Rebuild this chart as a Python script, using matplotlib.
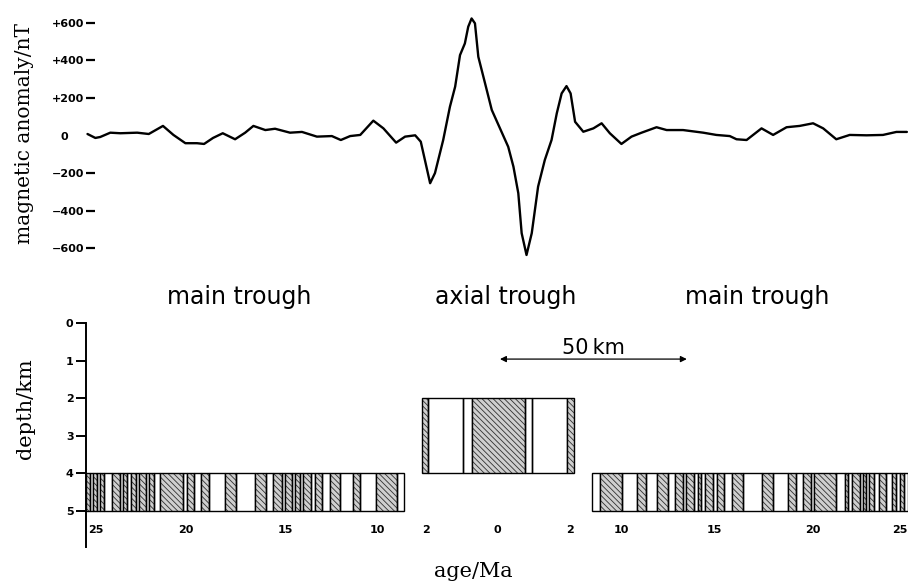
import matplotlib.pyplot as plt

# anomaly profile: distance from spreading axis (km) and field anomaly (nT)
profile_km = [-109.6, -107.5, -106.2, -103.5, -100.8, -96.3, -93.2, -89.4, -86.6, -83.4,
              -80.3, -78.4, -76.0, -73.4, -70.1, -67.4, -65.2, -62.0, -59.4, -55.4,
              -52.2, -48.2, -44.2, -41.8, -39.3, -36.6, -33.1, -30.4, -27.0, -24.6,
              -21.9, -20.4, -19.3, -17.9, -16.6, -14.4, -12.6, -11.2, -9.9, -8.6,
              -7.7, -6.8, -5.9, -5.0, -3.2, -1.4, 0.8, 3.0, 4.4, 5.7,
              6.6, 7.9, 9.3, 11.0, 12.8, 14.6, 16.0, 17.3, 18.6, 19.7,
              20.9, 23.1, 25.8, 28.0, 30.2, 33.3, 36.0, 38.7, 42.7, 45.4,
              49.8, 55.2, 58.7, 62.3, 64.1, 66.8, 70.8, 73.9, 77.5, 81.0,
              84.6, 87.3, 90.8, 94.4, 98.9, 103.3, 106.9, 109.7]
profile_nT = [8, -13, -8, 15, 12, 15, 8, 51, 3, -41,
              -41, -45, -13, 12, -20, 15, 51, 29, 36, 15,
              19, -6, -3, -24, -3, 3, 79, 38, -38, -6,
              1, -33, -130, -254, -200, -24, 153, 260, 428, 490,
              579, 623, 597, 419, 278, 136, 38, -60, -166, -307,
              -520, -636, -520, -272, -130, -24, 118, 224, 263, 224,
              73, 20, 38, 65, 12, -45, -6, 15, 44, 29,
              29, 15, 3, -3, -20, -24, 38, 3, 44, 51,
              65, 38, -20, 3, 1, 3, 19, 19]

anomaly_ticks = [600, 400, 200, 0, -200, -400, -600]
anomaly_labels = ['+600', '+400', '+200', '0', '\u2212200', '\u2212400', '\u2212600']
depth_ticks = [0, 1, 2, 3, 4, 5]

# polarity blocks: stripe boundaries (km) and 1 = normal (shaded), 0 = reversed
left_bounds = [-110, -109.0, -108.1, -107.0, -106.2, -105.1, -103.0, -101.0, -100.1, -98.9,
               -97.9, -96.5, -95.9, -93.9, -93.1, -91.9, -90.3, -84.0, -83.0, -81.0,
               -79.2, -77.1, -72.7, -69.8, -64.7, -61.9, -59.9, -57.5, -56.7, -54.8,
               -54.0, -52.7, -51.9, -49.7, -48.7, -46.8, -44.7, -42.0, -38.5, -36.6,
               -32.4, -26.7, -24.9]
left_shaded = [1, 0, 1, 0, 1, 0, 1, 0, 1, 0,
               1, 0, 1, 0, 1, 0, 1, 0, 1, 0,
               1, 0, 1, 0, 1, 0, 1, 0, 1, 0,
               1, 0, 1, 0, 1, 0, 1, 0, 1, 0,
               1, 0]
axial_bounds = [-20.1, -18.5, -9.1, -6.7, 7.5, 9.4, 18.7, 20.6]
axial_shaded = [1, 0, 0, 1, 0, 0, 1]
right_bounds = [25.5, 27.5, 33.5, 37.6, 39.8, 42.9, 45.8, 47.7, 49.8, 50.5,
                52.8, 53.7, 54.7, 55.6, 57.8, 59.0, 60.8, 63.0, 65.9, 70.9,
                73.9, 77.9, 80.0, 81.9, 84.0, 84.9, 90.8, 93.1, 93.9, 95.1,
                97.1, 97.9, 98.8, 99.6, 100.9, 102.2, 104.0, 105.8, 106.9, 107.8,
                109.0, 110]
right_shaded = [0, 1, 0, 1, 0, 1, 0, 1, 0, 1,
                0, 1, 0, 1, 0, 1, 0, 1, 0, 1,
                0, 1, 0, 1, 0, 1, 0, 1, 0, 1,
                0, 1, 0, 1, 0, 1, 0, 1, 0, 1,
                0]

# age labels (Ma) under the blocks, at distance (km)
age_km = [-107.5, -83.4, -56.6, -32.1, -19.0, 0, 19.5, 33.3, 58.3, 84.6, 107.9]
age_labels = ['25', '20', '15', '10', '2', '0', '2', '10', '15', '20', '25']

region_km = [-69.0, 2.4, 69.7]
region_names = ['main trough', 'axial trough', 'main trough']

scale_start = 0.8
scale_len = 50

plt.rcParams['hatch.linewidth'] = 0.6

fig = plt.figure(figsize=(9.08, 5.81), dpi=100)

# --- anomaly profile
ax = fig.add_axes([86 / 908, 1 - 267 / 581, 822 / 908, 263 / 581])
ax.plot(profile_km, profile_nT, color='black', linewidth=1.7,
        solid_joinstyle='round', solid_capstyle='round')
ax.set_xlim(-110, 110)
ax.set_ylim(-700, 700)
for s in ax.spines.values():
    s.set_visible(False)
ax.set_xticks([])
ax.set_yticks(anomaly_ticks)
ax.set_yticklabels(anomaly_labels, fontsize=8, fontweight='bold')
ax.tick_params(axis='y', direction='in', length=6.5, width=1.6, pad=1)
zero_tick = ax.yaxis.get_major_ticks()[3]
zero_tick.tick1line.set_visible(False)
zero_tick.set_pad(13)
ax.patch.set_visible(False)

# --- polarity blocks
ax2 = fig.add_axes([86 / 908, 1 - 547 / 581, 822 / 908, 224 / 581])
ax2.set_xlim(-110, 110)
ax2.set_ylim(5.96, 0)


def draw_block(bounds, shaded, top, base):
    for x0, x1, s in zip(bounds[:-1], bounds[1:], shaded):
        if s:
            ax2.bar(x0, base - top, width=x1 - x0, bottom=top, align='edge',
                    facecolor='#cfcfcf', edgecolor='#303030', linewidth=0,
                    hatch='\\\\\\\\\\\\')
        ax2.bar(x0, base - top, width=x1 - x0, bottom=top, align='edge',
                facecolor='none', edgecolor='black', linewidth=1.0)


draw_block(left_bounds, left_shaded, 4, 5)
draw_block(axial_bounds, axial_shaded, 2, 4)
draw_block(right_bounds, right_shaded, 4, 5)

for s in ['top', 'right', 'bottom']:
    ax2.spines[s].set_visible(False)
ax2.spines['left'].set_linewidth(1.4)
ax2.set_xticks([])
ax2.set_yticks(depth_ticks)
ax2.set_yticklabels([str(d) for d in depth_ticks], fontsize=8, fontweight='bold')
ax2.tick_params(axis='y', direction='out', length=7, width=1.4, pad=2)
ax2.patch.set_visible(False)

for x, lab in zip(age_km, age_labels):
    ax2.text(x, 5.5, lab, ha='center', va='center', fontsize=8, fontweight='bold')

for x, name in zip(region_km, region_names):
    ax2.text(x, -0.69, name, ha='center', va='center', fontsize=17)

ax2.annotate('', xy=(scale_start, 0.96), xytext=(scale_start + scale_len, 0.96),
             arrowprops=dict(arrowstyle='<|-|>', color='black', lw=0.9,
                             mutation_scale=9, shrinkA=0, shrinkB=0))
ax2.text(scale_start + scale_len / 2, 0.92, '50\u2009km', ha='center', va='bottom', fontsize=15)

ax2.text(-6.4, 6.62, 'age/Ma', ha='center', va='center', fontsize=15, family='DejaVu Serif')

fig.text(25 / 908, 1 - 133 / 581, 'magnetic anomaly/nT', rotation=90, ha='center',
         va='center', fontsize=14.5, family='DejaVu Serif')
fig.text(25 / 908, 1 - 409 / 581, 'depth/km', rotation=90, ha='center',
         va='center', fontsize=15, family='DejaVu Serif')

fig.savefig('out.png', dpi=100)
